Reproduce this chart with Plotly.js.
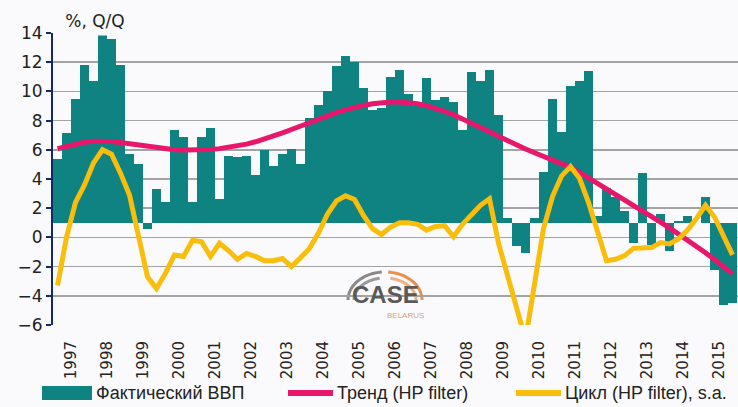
<!DOCTYPE html>
<html><head><meta charset="utf-8">
<script src="https://cdn.plot.ly/plotly-3.0.1.min.js"></script>
<style>html,body{margin:0;padding:0;background:#fafafc;overflow:hidden}</style>
</head><body><div id="chart" style="width:738px;height:407px"></div>
<script>
// first quarter shown: 1996 Q3
const firstYear = 1996, firstQuarter = 3;

const gdp = [
  5.4, 7.15,
  9.5, 11.8, 10.7, 13.9,
  13.6, 11.8, 5.7, 5.0,
  0.6, 3.3, 2.4, 7.35,
  6.85, 2.4, 6.9, 7.5,
  2.65, 5.55, 5.5, 5.6,
  4.3, 6.0, 4.9, 5.7,
  6.05, 5.0, 8.2, 9.1,
  10.0, 11.75, 12.4, 12.0,
  10.2, 8.7, 8.85, 11.0,
  11.5, 9.8, 9.0, 10.9,
  9.4, 9.65, 9.25, 7.35,
  11.35, 10.7, 11.5, 8.4,
  1.3, -0.6, -1.05, 1.3,
  4.45, 9.45, 7.25, 10.4,
  10.7, 11.4, 1.5, 3.4,
  2.8, 1.8, -0.4, 4.4,
  -0.5, 1.6, -0.95, 1.1,
  1.45, 1.0, 2.8, -2.2,
  -4.6, -4.5
];

const trend = [
  6.08, 6.25, 6.4, 6.52, 6.58, 6.6, 6.57, 6.5, 6.42, 6.32,
  6.22, 6.13, 6.06, 6.01, 5.98, 5.97, 5.98, 6.02, 6.08, 6.16,
  6.26, 6.39, 6.55, 6.73, 6.94, 7.16, 7.39, 7.63, 7.87, 8.1,
  8.33, 8.54, 8.73, 8.9, 9.04, 9.15, 9.23, 9.28, 9.28, 9.24,
  9.15, 9.02, 8.85, 8.64, 8.4, 8.13, 7.85, 7.55, 7.24, 6.93,
  6.62, 6.32, 6.05, 5.8, 5.55, 5.3, 5.05, 4.8, 4.45, 4.08,
  3.7, 3.32, 2.95, 2.58, 2.2, 1.82, 1.44, 1.05, 0.65, 0.25,
  -0.17, -0.6, -1.05, -1.52, -2.0, -2.5
];

const cycle = [
  -3.3, 0.0, 2.4, 3.6, 5.1, 6.0, 5.7, 4.4, 2.9, 0.0,
  -2.7, -3.5, -2.45, -1.2, -1.3, -0.2, -0.3, -1.3, -0.4, -0.9,
  -1.5, -1.1, -1.3, -1.6, -1.6, -1.45, -2.0, -1.4, -0.75, 0.3,
  1.6, 2.5, 2.85, 2.6, 1.5, 0.6, 0.2, 0.7, 1.0, 1.0,
  0.9, 0.5, 0.75, 0.8, 0.05, 0.9, 1.6, 2.2, 2.65, -0.4,
  -2.6, -5.0, -7.0, -3.2, 0.6, 2.8, 4.2, 4.85, 4.05, 2.4,
  0.5, -1.6, -1.5, -1.25, -0.75, -0.7, -0.7, -0.35, -0.45, -0.1,
  0.5, 1.3, 2.2, 1.4, 0.05, -1.2
];

const yearLabels = ['1997','1998','1999','2000','2001','2002','2003','2004','2005','2006',
                    '2007','2008','2009','2010','2011','2012','2013','2014','2015'];

const seriesNames = ['Фактический ВВП', 'Тренд (HP filter)', 'Цикл (HP filter), s.a.'];
const axisTitle = '%, Q/Q';
const logoText = 'CASE', logoSub = 'BELARUS';

const colTeal = '#0f8282', colPink = '#e8176b', colGold = '#f9bd0b', colNavy = '#14286e';
const bg = '#fafafc';

const quarters = gdp.map((_, i) => {
  const q = firstQuarter - 1 + i;
  return (firstYear + Math.floor(q / 4)) + ' Q' + (q % 4 + 1);
});
const idx = quarters.map((_, i) => i);
const yearTicks = yearLabels.map(y => quarters.indexOf(y + ' Q1') - 0.5);

const axisCross = 1;          // horizontal axis crosses the value axis at 1
const yMin = -6, yMax = 14;
const xRange = [-0.5, 75.61];

// pixel -> paper helpers (for legend / logo decorations)
const ml = 53, mt = 33, pw = 685, ph = 292;
const px = p => (p - ml) / pw;
const py = p => (mt + ph - p) / ph;

function arc(cx, cy, rx, ry, a0, a1) {
  let d = '';
  const n = 24;
  for (let k = 0; k <= n; k++) {
    const a = (a0 + (a1 - a0) * k / n) * Math.PI / 180;
    const x = px(cx + rx * Math.cos(a)), y = py(cy - ry * Math.sin(a));
    d += (k ? ' L' : 'M') + x.toFixed(5) + ',' + y.toFixed(5);
  }
  return d;
}

const traces = [
  {type: 'bar', x: idx, y: gdp.map(v => v - axisCross), base: axisCross,
   customdata: gdp, hovertext: quarters, width: 0.92,
   marker: {color: colTeal, line: {width: 0}}, name: seriesNames[0], showlegend: false},
  {type: 'scatter', mode: 'lines', x: idx, y: trend, name: seriesNames[1],
   line: {color: colPink, width: 5}, showlegend: false},
  {type: 'scatter', mode: 'lines', x: idx, y: cycle, name: seriesNames[2],
   line: {color: colGold, width: 5}, showlegend: false}
];

const shapes = [
  // legend swatches
  {type: 'rect', xref: 'paper', yref: 'paper', x0: px(42), x1: px(92), y0: py(400), y1: py(386),
   fillcolor: colTeal, line: {width: 0}},
  {type: 'line', xref: 'paper', yref: 'paper', x0: px(288), x1: px(333), y0: py(393), y1: py(393),
   line: {color: colPink, width: 6}},
  {type: 'line', xref: 'paper', yref: 'paper', x0: px(516), x1: px(561), y0: py(393), y1: py(393),
   line: {color: colGold, width: 6}},
  // logo arches
  {type: 'path', xref: 'paper', yref: 'paper', layer: 'below', path: arc(385, 300, 37, 28, 180, 95), line: {color: '#8a8a8a', width: 3}},
  {type: 'path', xref: 'paper', yref: 'paper', layer: 'below', path: arc(385, 300, 31, 22, 180, 100), line: {color: '#9a9a9a', width: 3}},
  {type: 'path', xref: 'paper', yref: 'paper', layer: 'below', path: arc(385, 300, 37, 28, 85, 0), line: {color: '#e8904a', width: 3}},
  {type: 'path', xref: 'paper', yref: 'paper', layer: 'below', path: arc(385, 300, 31, 22, 80, 0), line: {color: '#f0b080', width: 3}}
];

const annotations = [
  {xref: 'paper', yref: 'paper', x: px(55), y: py(21), xanchor: 'left', yanchor: 'middle',
   text: axisTitle, showarrow: false, width: 76, height: 26, bgcolor: bg,
   font: {family: 'DejaVu Sans', size: 17, color: '#222'}},
  {xref: 'paper', yref: 'paper', x: px(94), y: py(393), xanchor: 'left', yanchor: 'middle',
   text: seriesNames[0], showarrow: false, font: {family: 'Liberation Sans', size: 18, color: '#222'}},
  {xref: 'paper', yref: 'paper', x: px(335), y: py(393), xanchor: 'left', yanchor: 'middle',
   text: seriesNames[1], showarrow: false, font: {family: 'Liberation Sans', size: 18, color: '#222'}},
  {xref: 'paper', yref: 'paper', x: px(563), y: py(393), xanchor: 'left', yanchor: 'middle',
   text: seriesNames[2], showarrow: false, font: {family: 'Liberation Sans', size: 18, color: '#222'}},
  {xref: 'paper', yref: 'paper', x: px(385), y: py(294), xanchor: 'center', yanchor: 'middle',
   text: '<b>' + logoText + '</b>', showarrow: false, height: 22, font: {family: 'Liberation Sans', size: 24, color: '#5a5a5a'}},
  {xref: 'paper', yref: 'paper', x: px(405), y: py(315), xanchor: 'center', yanchor: 'middle',
   text: logoSub, showarrow: false, height: 10, font: {family: 'Liberation Sans', size: 8, color: '#d9a472'}}
];

const layout = {
  width: 738, height: 407,
  margin: {l: ml, r: 0, t: mt, b: 407 - mt - ph},
  paper_bgcolor: bg, plot_bgcolor: bg,
  showlegend: false, bargap: 0,
  xaxis: {range: xRange, showgrid: false, zeroline: false, showline: false,
          tickmode: 'array', tickvals: yearTicks, ticktext: yearLabels, tickangle: -90,
          ticks: '', ticklabelstandoff: 12,
          tickfont: {family: 'DejaVu Sans', size: 15, color: '#222'}},
  xaxis2: {range: xRange, overlaying: 'x', anchor: 'free', position: (axisCross - yMin) / (yMax - yMin),
           showline: true, linecolor: colNavy, linewidth: 2, showgrid: false, zeroline: false,
           tickmode: 'linear', tick0: -0.5, dtick: 1, ticks: 'outside', ticklen: 4, tickwidth: 1.5,
           tickcolor: colNavy, showticklabels: false, side: 'bottom'},
  yaxis: {range: [yMin, yMax], dtick: 2, tick0: 0, showgrid: true, gridcolor: '#a3a3a3', gridwidth: 1.5,
          zeroline: false, showline: true, linecolor: colNavy, linewidth: 2,
          ticks: 'outside', ticklen: 5, tickwidth: 2, tickcolor: colNavy,
          tickfont: {family: 'DejaVu Sans', size: 17, color: '#222'}},
  shapes: shapes, annotations: annotations
};

Plotly.newPlot('chart', traces, layout, {displayModeBar: false, staticPlot: true});
</script>
</body></html>
